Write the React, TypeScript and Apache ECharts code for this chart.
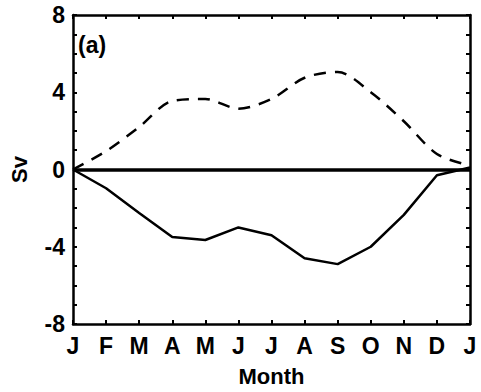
import React, { useEffect, useRef } from "react";
import * as echarts from "echarts";

const monthLabels = ["J", "F", "M", "A", "M", "J", "J", "A", "S", "O", "N", "D", "J"];
const solidValues = [0, -0.97, -2.25, -3.5, -3.65, -3.0, -3.4, -4.6, -4.9, -4.0, -2.35, -0.3, 0.1];
const dashedValues = [0, 0.95, 2.2, 3.55, 3.65, 3.15, 3.65, 4.75, 5.05, 4.0, 2.5, 0.8, 0.2];
const yTicks = [-8, -4, 0, 4, 8];

const FONT = "'Liberation Sans', Arial, Helvetica, sans-serif";

export default function App() {
  const ref = useRef<HTMLDivElement>(null);
  useEffect(() => {
    if (!ref.current) return;
    const chart = echarts.init(ref.current, null, { renderer: "svg" });
    const toPairs = (arr: number[]) => arr.map((v, i) => [i, v]);
    const axisLine = { show: true, onZero: false, lineStyle: { color: "#000", width: 2.5 } };
    const tick = { show: true, inside: true, length: 4, lineStyle: { color: "#000", width: 2 } };
    const minor = { show: true, splitNumber: 4, length: 4, lineStyle: { color: "#000", width: 2 } };
    chart.setOption({
      animation: false,
      backgroundColor: "#fff",
      grid: { left: 65, right: 11, top: 15, bottom: 59 },
      xAxis: [
        {
          type: "value",
          min: 0,
          max: 12,
          interval: 1,
          position: "bottom",
          axisLine,
          axisTick: tick,
          axisLabel: {
            show: true,
            margin: 10,
            color: "#000",
            fontSize: 23,
            fontWeight: "bold",
            fontFamily: FONT,
            formatter: (v: number) => monthLabels[Math.round(v)] ?? "",
          },
          splitLine: { show: false },
          name: "Month",
          nameLocation: "middle",
          nameGap: 41,
          nameTextStyle: { color: "#000", fontSize: 22, fontWeight: "bold", fontFamily: FONT },
        },
        {
          type: "value",
          min: 0,
          max: 12,
          interval: 1,
          position: "top",
          axisLine,
          axisTick: tick,
          axisLabel: { show: false },
          splitLine: { show: false },
        },
      ],
      yAxis: [
        {
          type: "value",
          min: -8,
          max: 8,
          interval: 4,
          position: "left",
          axisLine,
          axisTick: tick,
          minorTick: minor,
          axisLabel: {
            show: true,
            margin: 8,
            color: "#000",
            fontSize: 23,
            fontWeight: "bold",
            fontFamily: FONT,
            formatter: (v: number) => (yTicks.includes(v) ? String(v) : ""),
          },
          splitLine: { show: false },
          name: "Sv",
          nameLocation: "middle",
          nameGap: 43,
          nameRotate: 90,
          nameTextStyle: { color: "#000", fontSize: 22, fontWeight: "bold", fontFamily: FONT },
        },
        {
          type: "value",
          min: -8,
          max: 8,
          interval: 4,
          position: "right",
          axisLine,
          axisTick: tick,
          minorTick: minor,
          axisLabel: { show: false },
          splitLine: { show: false },
        },
      ],
      graphic: [
        {
          type: "text",
          left: 78,
          top: 33,
          style: { text: "(a)", fill: "#000", font: `bold 23px ${FONT}` },
        },
      ],
      series: [
        {
          type: "line",
          data: toPairs(solidValues),
          showSymbol: false,
          symbol: "none",
          lineStyle: { color: "#000", width: 2.5, type: "solid" },
          markLine: {
            silent: true,
            symbol: "none",
            label: { show: false },
            lineStyle: { color: "#000", width: 3.5, type: "solid" },
            data: [{ yAxis: 0 }],
          },
          z: 3,
        },
        {
          type: "line",
          data: toPairs(dashedValues),
          showSymbol: false,
          symbol: "none",
          smooth: 0.3,
          lineStyle: { color: "#000", width: 2.5, type: [12, 9] },
          z: 3,
        },
      ],
    });
    return () => chart.dispose();
  }, []);
  return <div ref={ref} style={{ width: 481, height: 392, position: "absolute", left: 0, top: 0 }} />;
}
